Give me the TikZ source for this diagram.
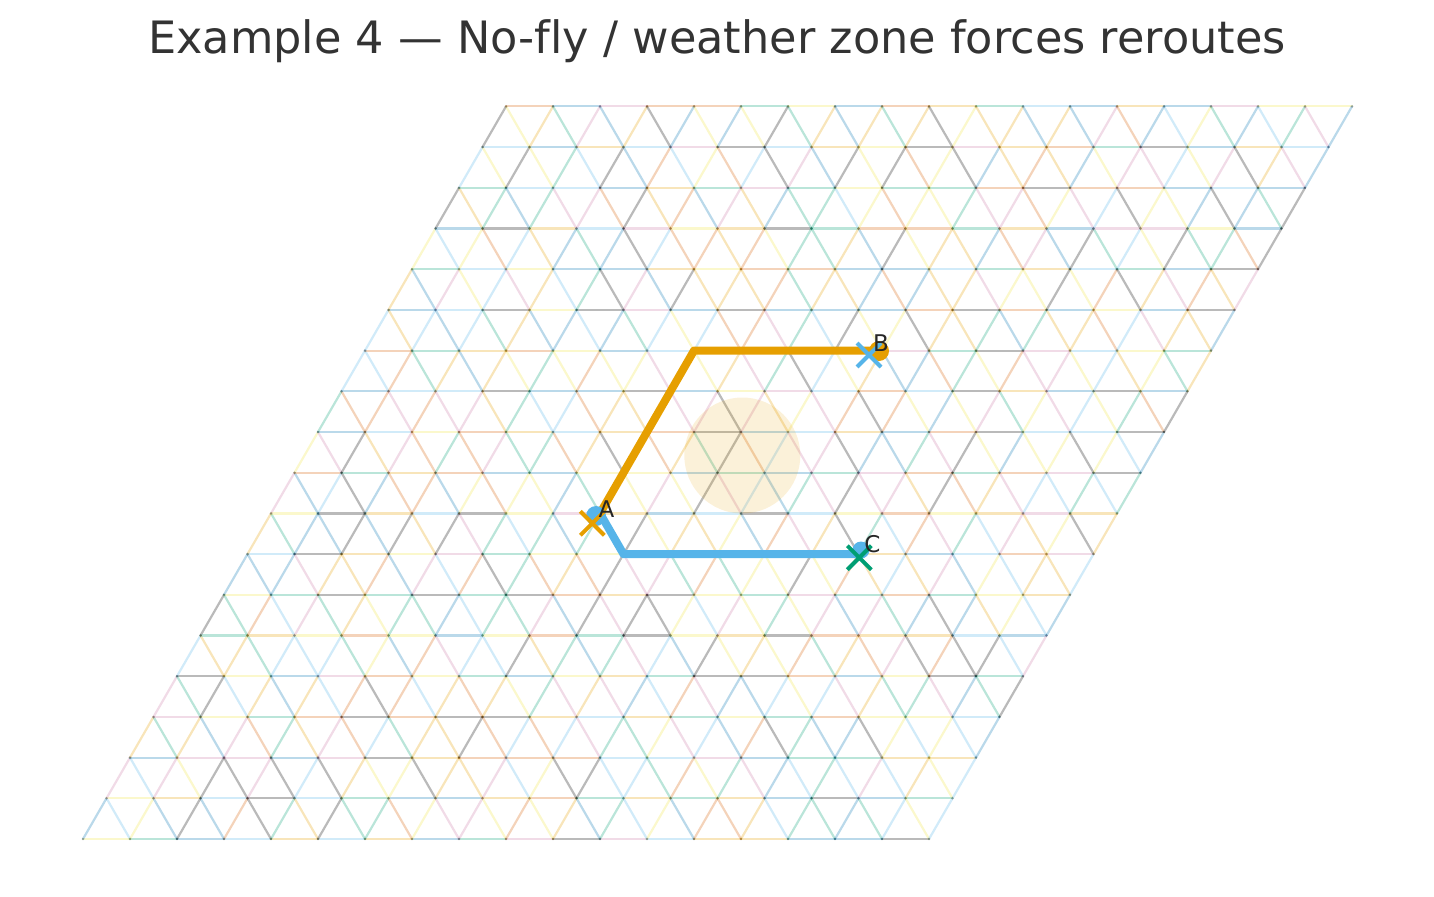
\documentclass[tikz,border=0pt]{standalone}
\usepackage{fontspec}
\setmainfont{DejaVu Sans}[Ligatures=NoCommon]
\usetikzlibrary{positioning,shapes.misc}

\definecolor{titlegray}{HTML}{333333}
\definecolor{droneorange}{HTML}{E69F00}
\definecolor{droneblue}{HTML}{56B4E9}
\definecolor{dronegreen}{HTML}{009E73}
% palette for the lattice edges
\definecolor{edge0}{HTML}{000000}
\definecolor{edge1}{HTML}{E69F00}
\definecolor{edge2}{HTML}{56B4E9}
\definecolor{edge3}{HTML}{009E73}
\definecolor{edge4}{HTML}{F0E442}
\definecolor{edge5}{HTML}{0072B2}
\definecolor{edge6}{HTML}{D55E00}
\definecolor{edge7}{HTML}{CC79A7}

\begin{document}
\begin{tikzpicture}[
x=0.5pt, y=0.5pt,
gridedge/.style={line width=1.1pt, draw opacity=0.27, line cap=round},
vertexdot/.style={fill=black, fill opacity=0.25},
zone/.style={fill=droneorange, fill opacity=0.15},
route/.style={line width=4pt, line cap=round, line join=round},
markx/.style={cross out, line width=2pt, minimum size=10pt, inner sep=0pt},
tag/.style={font=\fontsize{11.5}{13}\selectfont, text=black!85, inner sep=0pt}
]
\useasboundingbox (0,0) rectangle (1434,896);
\node[font=\fontsize{22.3}{26}\selectfont, text=titlegray] (title) at (717,855) {Example 4 — No-fly / weather zone forces reroutes};

% triangular lattice
\begin{scope}[shift={(83,57)}, x={(23.5pt,0pt)}, y={(11.75pt,20.35pt)}]
\pgfmathsetseed{4}
\foreach \i in {0,...,18}{
  \foreach \j in {0,...,18}{
    \ifnum\i<18
      \pgfmathrandominteger{\c}{0}{7}
      \draw[gridedge, draw=edge\c] (\i,\j) -- ++(1,0);
    \fi
    \ifnum\j<18
      \pgfmathrandominteger{\c}{0}{7}
      \draw[gridedge, draw=edge\c] (\i,\j) -- ++(0,1);
      \ifnum\i<18
        \pgfmathrandominteger{\c}{0}{7}
        \draw[gridedge, draw=edge\c] (\i+1,\j) -- ++(-1,1);
      \fi
    \fi
  }
}
\foreach \i in {0,...,18}
  \foreach \j in {0,...,18}
    \fill[vertexdot] (\i,\j) circle[radius=0.7pt];

\coordinate (A) at (7,8);
\coordinate (orangeturn) at (7,12);
\coordinate (B) at (11,12);
\coordinate (blueturn) at (8,7);
\coordinate (C) at (13,7);
\end{scope}

% no-fly zone
\fill[zone] (742.3,440.5) circle[radius=58];

% reroutes
\draw[route, droneorange] (A) -- (orangeturn) -- (B);
\draw[route, droneblue] (A) -- (blueturn) -- (C);
\fill[droneblue] (596,380) circle[radius=10];
\fill[droneorange] (879,545) circle[radius=10];
\fill[droneblue] (861,346) circle[radius=8.5];

% waypoints
\node[markx, draw=droneorange] (Amark) at (592.3,372.7) {};
\node[markx, draw=droneblue] (Bmark) at (869,541) {};
\node[markx, draw=dronegreen] (Cmark) at (859.3,338.3) {};
\node[tag] (Alabel) at (606.5,387) {A};
\node[tag] (Blabel) at (881,553) {B};
\node[tag] (Clabel) at (872.5,352) {C};
\end{tikzpicture}
\end{document}
